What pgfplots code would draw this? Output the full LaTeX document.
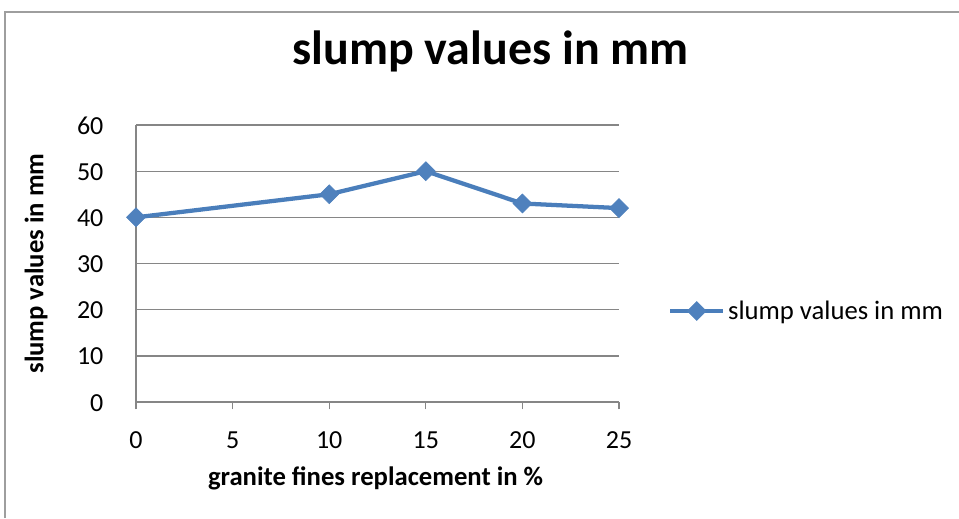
\documentclass[border=0pt]{standalone}
\usepackage{pgfplots}
\pgfplotsset{compat=1.18}
\usepackage{fontspec}
\setmainfont{Carlito}
\definecolor{serblue}{HTML}{4A7EBB}
\definecolor{mkblue}{HTML}{4F81BD}
\definecolor{gridgray}{HTML}{868686}
\begin{document}
\begin{tikzpicture}
\useasboundingbox (0pt,0pt) rectangle (719.25pt,388.5pt);
\draw[gridgray!80, line width=1.2pt] (3.75pt,0pt) -- (3.75pt,379.5pt) -- (719.25pt,379.5pt);
\begin{axis}[
  at={(102pt,87pt)}, anchor=south west,
  scale only axis, width=362.25pt, height=207.75pt,
  xmin=0, xmax=25, ymin=0, ymax=60,
  xtick={0,5,10,15,20,25}, ytick={0,10,20,30,40,50,60},
  axis x line*=bottom, axis y line*=left,
  axis line style={gridgray, line width=1pt, -},
  ymajorgrids, grid style={gridgray, line width=1pt},
  xtick style={gridgray, line width=1pt}, ytick style={draw=none},
  tick align=outside, major tick length=5.5pt,
  /pgf/number format/assume math mode=true,
  ticklabel style={font=\fontsize{19.5}{22}\selectfont, inner sep=0pt},
  xticklabel style={anchor=base, yshift=-29pt},
  yticklabel style={anchor=base east, xshift=-18.75pt, yshift=-6.75pt},
  title={\bfseries slump values in mm},
  title style={font=\fontsize{36}{42}\selectfont, at={(axis description cs:0.734,1.188)}, anchor=base, inner sep=0pt},
  xlabel={\bfseries granite fines replacement in \%},
  xlabel style={font=\fontsize{20}{24}\selectfont, at={(axis description cs:0.496,-0.303)}, anchor=base, inner sep=0pt},
  ylabel={\bfseries slump values in mm},
  ylabel style={font=\fontsize{20}{24}\selectfont, at={(axis description cs:-0.207,0.5)}, anchor=center, rotate=0},
  legend style={draw=none, fill=none, at={(axis description cs:1.101,0.3285)}, anchor=west, font=\fontsize{20}{24}\selectfont, inner sep=0pt},
  legend cell align=left,
  legend image code/.code={\draw[#1, mark repeat=2, mark phase=2] plot coordinates {(0cm,0cm) (0.7cm,0cm) (1.4cm,0cm)};},
  clip=false,
]
\addplot[serblue, line width=3.2pt, mark=square*, mark size=5pt, mark options={rotate=45, fill=mkblue, draw=mkblue, line width=0.5pt}]
  coordinates {(0,40) (10,45) (15,50) (20,43) (25,42)};
\addlegendentry{slump values in mm}
\end{axis}
\end{tikzpicture}
\end{document}
